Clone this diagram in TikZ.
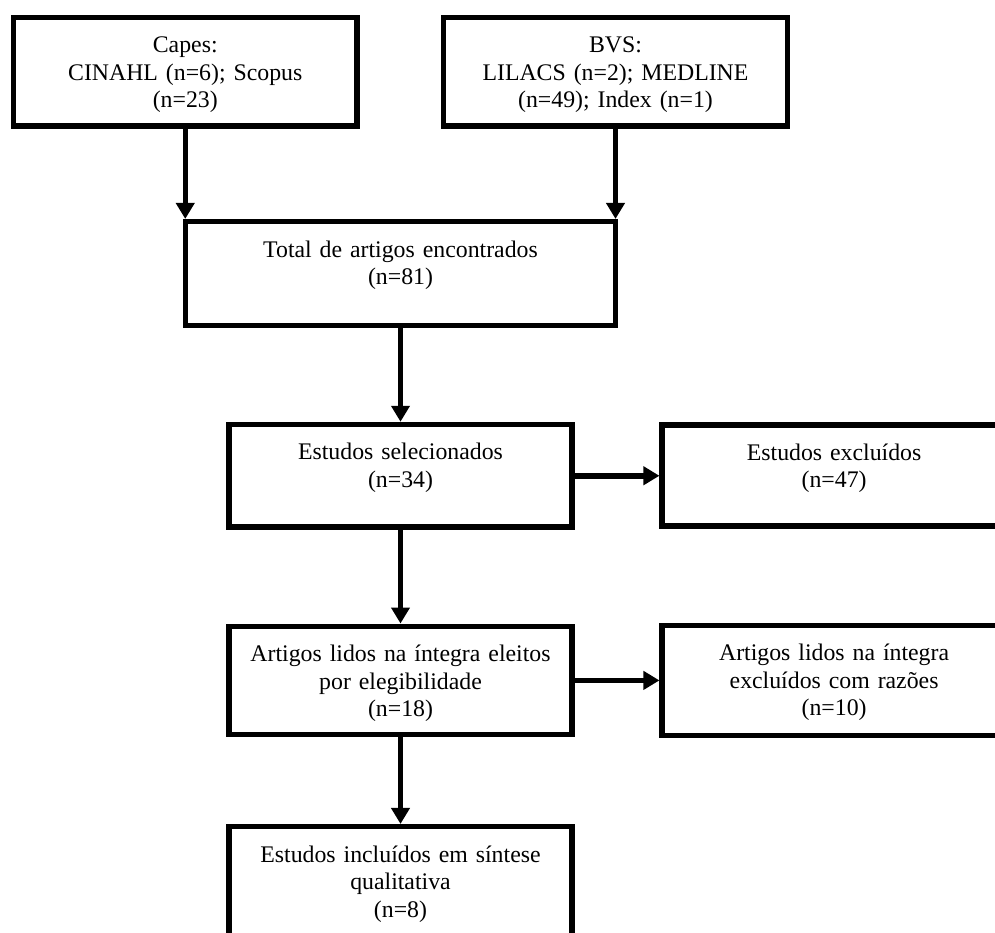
\documentclass[tikz,border=0pt]{standalone}
\usepackage{fontspec}
\setmainfont{Liberation Serif}
\usetikzlibrary{arrows.meta}
\begin{document}
\begin{tikzpicture}[x=1pt,y=-1pt,
  box/.style={draw=black, line width=5.5pt, inner sep=0pt, rectangle},
  txt/.style={font=\fontsize{23.8}{27.5}\selectfont, text width=420pt, align=center, anchor=base, inner sep=0pt},
  conn/.style={line width=5.5pt, -{Triangle[width=18pt,length=16pt]}}]
\useasboundingbox (0,0) rectangle (995,932);
\clip (0,0) rectangle (995,932);
% boxes
\node[box, minimum width=343.5pt, minimum height=108.3pt] (b1) at (185.25,71.6) {};
\node[box, minimum width=343.6pt, minimum height=108.3pt] (b2) at (615.5,71.6) {};
\node[box, minimum width=430.4pt, minimum height=103.8pt] (b3) at (400.5,273.6) {};
\node[box, minimum width=343.4pt, minimum height=102.5pt] (b4) at (400.5,475.75) {};
\node[box, minimum width=343.8pt, minimum height=101pt] (b5) at (834.1,475.5) {};
\node[box, minimum width=343.4pt, minimum height=108.3pt] (b6) at (400.5,680.4) {};
\node[box, minimum width=343.8pt, minimum height=110pt] (b7) at (834.1,680.5) {};
\node[box, minimum width=343.4pt, minimum height=113.3pt] (b8) at (400.5,883.35) {};
% texts
\node[txt] (t1) at (185.25,52.8) {Capes:\\CINAHL (n=6); Scopus\\(n=23)};
\node[txt] (t2) at (615.5,52.8) {BVS:\\LILACS (n=2); MEDLINE\\(n=49); Index (n=1)};
\node[txt] (t3) at (400.5,257) {Total de artigos encontrados\\(n=81)};
\node[txt] (t4) at (400.5,459.8) {Estudos selecionados\\(n=34)};
\node[txt] (t5) at (834.1,460.3) {Estudos excluídos\\(n=47)};
\node[txt] (t6) at (400.5,661.5) {Artigos lidos na íntegra eleitos\\por elegibilidade\\(n=18)};
\node[txt] (t7) at (834.1,660.8) {Artigos lidos na íntegra\\excluídos com razões\\(n=10)};
\node[txt] (t8) at (400.5,862) {Estudos incluídos em síntese\\qualitativa\\(n=8)};
% connectors
\draw[conn] (b1.south) -- (b1.south |- b3.north);
\draw[conn] (b2.south) -- (b2.south |- b3.north);
\draw[conn] (b3.south) -- (b4.north);
\draw[conn] (b4.east) -- (b4.east -| b5.west);
\draw[conn] (b4.south) -- (b6.north);
\draw[conn] (b6.east) -- (b6.east -| b7.west);
\draw[conn] (b6.south) -- (b8.north);
\end{tikzpicture}
\end{document}
